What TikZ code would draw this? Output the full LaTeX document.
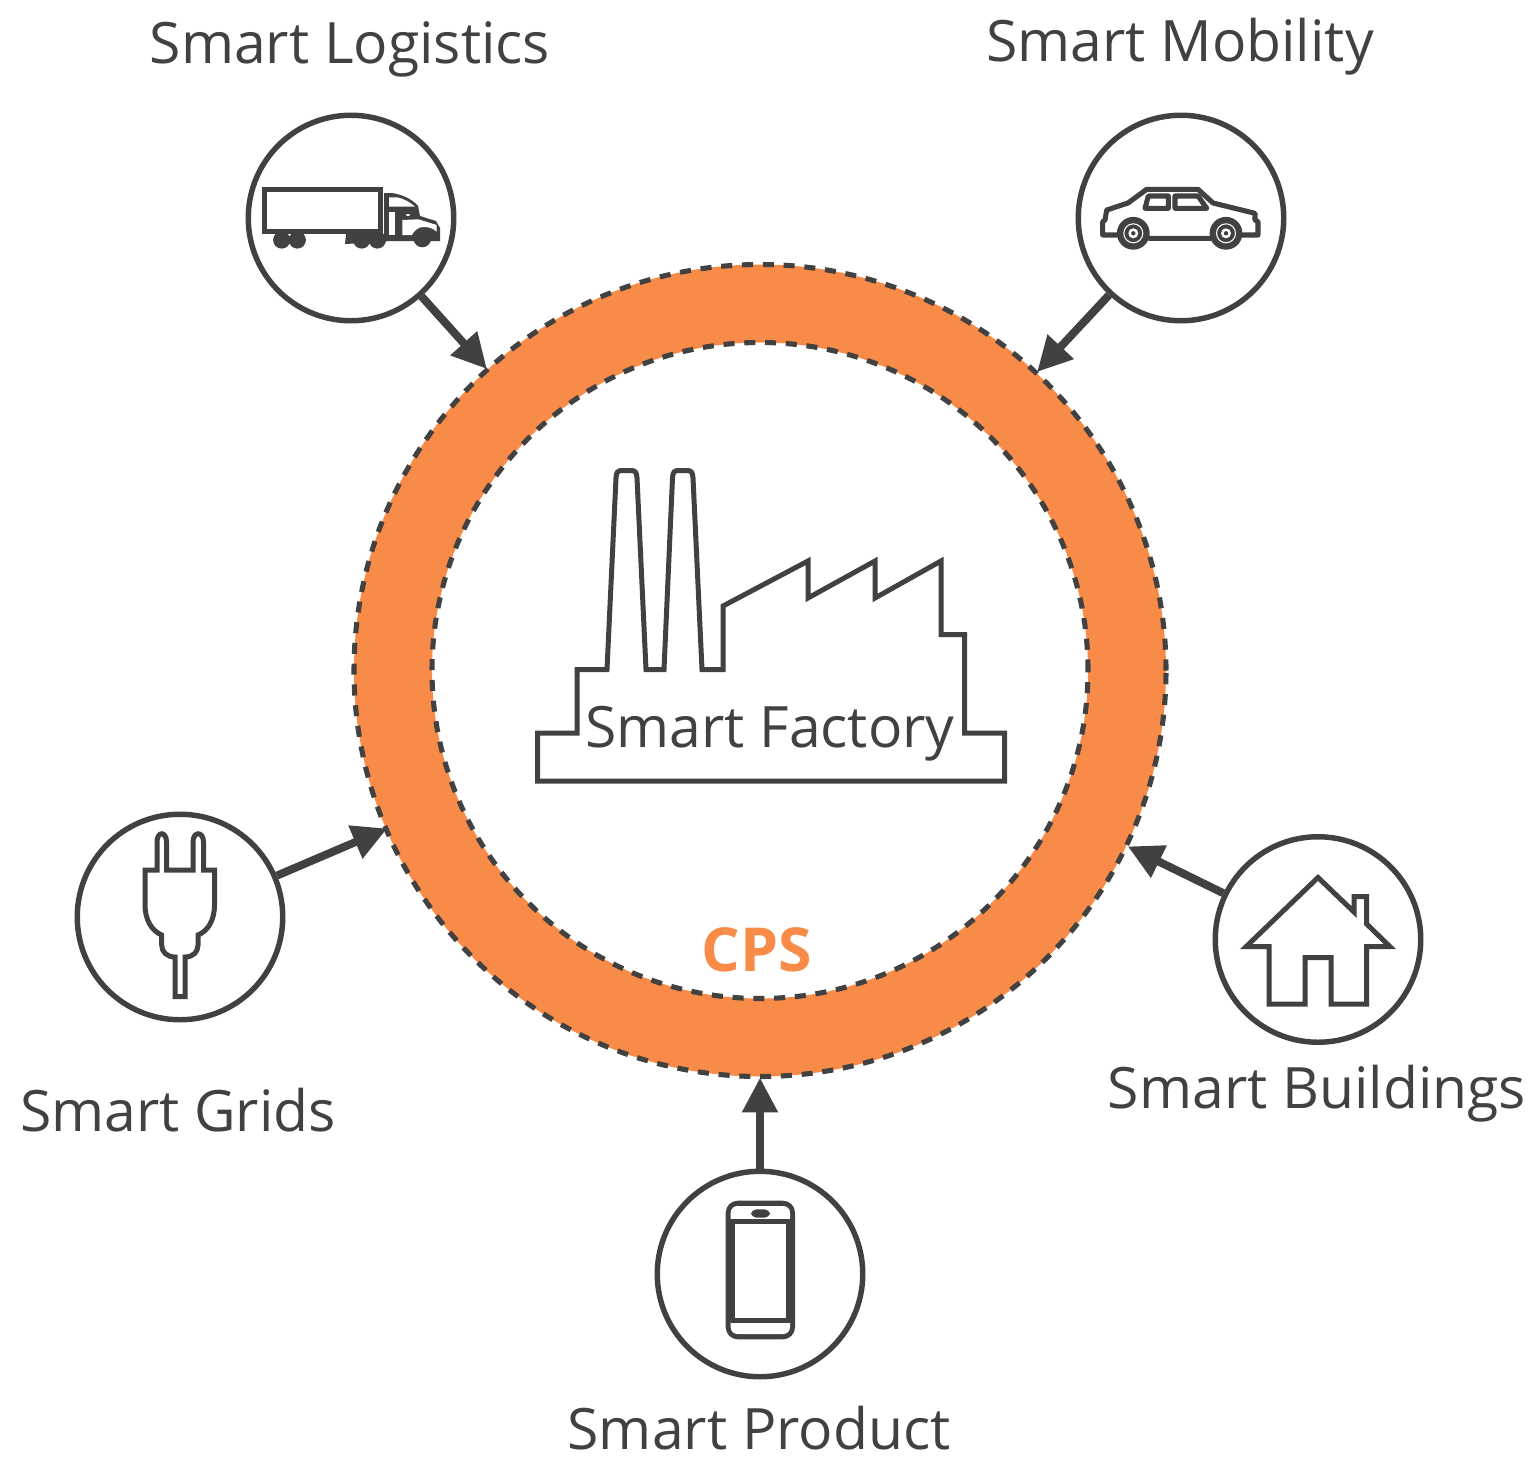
\documentclass[tikz,border=0pt]{standalone}
\usepackage{fontspec}
\setmainfont{Open Sans}
\usetikzlibrary{arrows.meta}
\definecolor{ink}{HTML}{414141}
\definecolor{cpsor}{HTML}{F98B48}
\tikzset{x=0.75pt,y=-0.75pt,
 iconring/.style={circle,draw=ink,line width=4.1pt,minimum size=205.5*0.75pt,inner sep=0pt,fill=white},
 lbl/.style={text=ink,font=\fontsize{42.8}{48}\selectfont,inner sep=0pt,anchor=base},
 conn/.style={draw=ink,line width=6pt,-{Triangle[length=26pt,width=25.5pt,inset=0pt]},shorten >=-1pt},
 icon/.style={draw=ink,line width=3.75pt,line join=miter},
 iconb/.style={draw=ink,line width=3.8pt,line join=round,line cap=round},
 dashring/.style={draw=ink,line width=3.8pt,dash pattern=on 8.3pt off 7.3pt},
}
\begin{document}
\begin{tikzpicture}
\useasboundingbox (0,0) rectangle (1534,1456);
% ring
\path[fill=cpsor,even odd rule] (760,670.5) circle [radius=406] (760,670.5) circle [radius=328];
\node[circle,minimum size=812*0.75pt,inner sep=0pt,dashring] (outer) at (760,670.5) {};
\node[circle,minimum size=656*0.75pt,inner sep=0pt,dashring] (inner) at (760,670.5) {};
% icon circles
\node[iconring] (log) at (351,218) {};
\node[iconring] (mob) at (1181,218) {};
\node[iconring] (grid) at (180,917) {};
\node[iconring] (bld) at (1318,939.5) {};
\node[iconring] (prod) at (760,1274) {};
% connectors
\coordinate (t1) at (486,368);
\coordinate (t2) at (1038,371);
\coordinate (t3) at (386,829);
\coordinate (t4) at (1129,847);
\coordinate (t5) at (760,1079);
\draw[conn] (log) -- (t1);
\draw[conn] (mob) -- (t2);
\draw[conn] (grid) -- (t3);
\draw[conn] (bld) -- (t4);
\draw[conn] (prod) -- (t5);
% factory
\draw[icon] (537.5,781) -- (537.5,733) -- (577,733) -- (577,669.5) -- (607,669.5) -- (616,478) .. controls (616.3,472) and (618,470.5) .. (622,470.5) -- (631,470.5) .. controls (635,470.5) and (636.7,472) .. (637,478) -- (646,669.5) -- (664,669.5) -- (672.5,478) .. controls (672.8,472) and (674.5,470.5) .. (678.5,470.5) -- (687,470.5) .. controls (691,470.5) and (692.7,472) .. (693,478) -- (702,669.5) -- (723,669.5) -- (723,606) -- (808,561) -- (808,598) -- (875,561) -- (875,598) -- (941,561) -- (941,634.5) -- (964.5,634.5) -- (964.5,733) -- (1004.5,733) -- (1004.5,781) -- cycle;
\node[lbl] (fac) at (770,747) {Smart Factory};
\node[text=cpsor,font=\fontsize{45.5}{50}\selectfont\bfseries,inner sep=0pt,anchor=base] (cps) at (757,971) {CPS};
% labels
\node[lbl] (l1) at (350,63) {Smart Logistics};
\node[lbl] (l2) at (1180,61) {Smart Mobility};
\node[lbl] (l3) at (178,1131) {Smart Grids};
\node[lbl] (l4) at (1317,1108) {Smart Buildings};
\node[lbl] (l5) at (759,1449) {Smart Product};
% truck
\draw[draw=ink,line width=3.75pt] (264,189.7) rectangle (380.6,231);
\fill[ink] (281.7,240) circle (8.6) (297.3,240) circle (8.6) (361.7,240) circle (8.6) (377.3,240) circle (8.6);
\fill[ink] (346,234) -- (386,234) -- (386,242) -- (345,244) -- cycle;
\fill[ink] (384,193) -- (392,193) .. controls (405,195) and (414,201) .. (418,206) -- (420,216) -- (436,221) -- (440,228) -- (440,241) -- (384,241) -- cycle;
\fill[white] (389,197.3) -- (396.7,197.3) .. controls (405,199) and (411,203) .. (415,206.7) -- (389,206.7) -- cycle;
\fill[white] (389,211.7) rectangle (395,235);
\fill[white] (402.3,220) -- (418.3,219.3) -- (436.7,225) -- (436.7,231.7) .. controls (432,227) and (426,227) .. (423,227) .. controls (418,227) and (414,231) .. (412,235) -- (402.3,235) -- cycle;
\fill[white] (408,215) ellipse (2 and 1);
\fill[ink] (422.3,238.5) circle (8.8);
% car
\draw[iconb,fill=white] (1116.7,235) -- (1102.7,235) -- (1102.7,221.7) -- (1105,220) -- (1106.7,210) -- (1128,203) -- (1146.7,189.3) -- (1198,189.3) -- (1213,203) -- (1255,213.3) -- (1255,220) -- (1258,221.7) -- (1258,235) -- (1243,235) -- (1210,238.3) -- (1150,238.3) -- cycle;
\draw[iconb,fill=white] (1148.3,196) -- (1168.3,196) -- (1168.3,208.3) -- (1145,208.3) -- cycle;
\draw[iconb,fill=white] (1175,196) -- (1198,196) -- (1206.7,208.3) -- (1175,208.3) -- cycle;
\fill[ink] (1133.3,233.3) circle (16.4) (1226,233.3) circle (16.4);
\draw[white,line width=0.8pt] (1133.3,233.3) circle (9.5) (1226,233.3) circle (9.5);
\fill[white] (1133.3,233.3) circle (5) (1226,233.3) circle (5);
\fill[ink] (1133.3,233.3) circle (2.2) (1226,233.3) circle (2.2);
% plug
\draw[icon] (145,870) -- (157,870) -- (157,842) .. controls (157,831) and (166.5,831) .. (166.5,842) -- (166.5,870) -- (193,870) -- (193,842) .. controls (193,831) and (203.5,831) .. (203.5,842) -- (203.5,870) -- (214.5,870) -- (214.5,905) .. controls (214.5,920) and (208,931) .. (198,935) -- (198,945) .. controls (198,952) and (193,957) .. (185,957) -- (185,996.7) -- (175,996.7) -- (175,957) .. controls (167,957) and (161.7,952) .. (161.7,945) -- (161.7,935) .. controls (152,931) and (145,920) .. (145,905) -- cycle;
% house
\draw[icon] (1246,946.7) -- (1318,877.5) -- (1354,912) -- (1354,896.7) -- (1366.7,896.7) -- (1366.7,924) -- (1390,946.7) -- (1366.7,946.7) -- (1366.7,1004) -- (1331,1004) -- (1331,957.7) -- (1305,957.7) -- (1305,1004) -- (1269,1004) -- (1269,946.7) -- cycle;
% phone
\fill[ink,rounded corners=9] (725.7,1200.7) rectangle (795,1339.3);
\fill[white,rounded corners=5] (730.7,1206) rectangle (790,1225);
\fill[ink] (730.7,1219) rectangle (790,1226);
\fill[white,rounded corners=5] (730.7,1316) rectangle (790,1334);
\fill[ink] (730.7,1315) rectangle (790,1323.3);
\fill[white] (735,1224) rectangle (786,1318.3);
\fill[ink,rounded corners=4] (751,1209.3) rectangle (770,1217.7);
\end{tikzpicture}
\end{document}
